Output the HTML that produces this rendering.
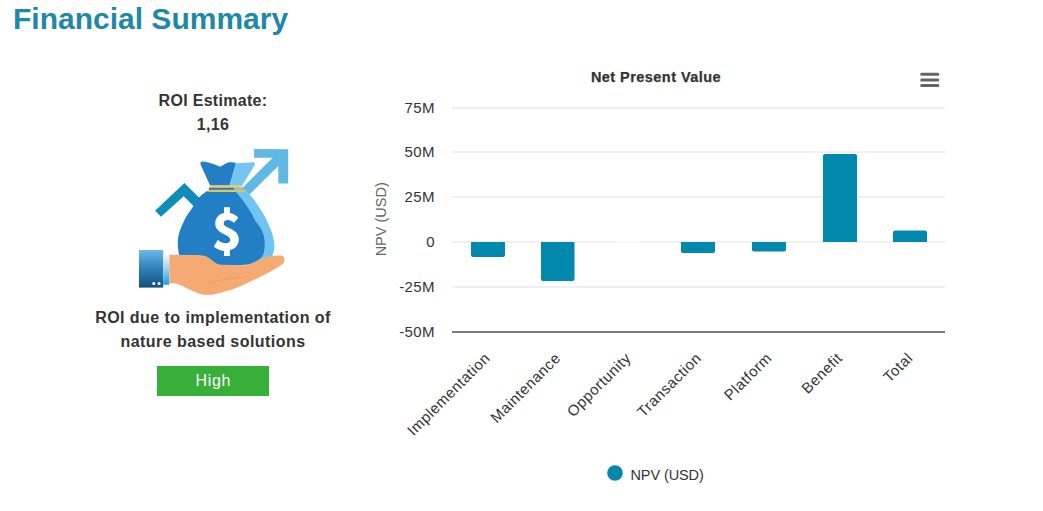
<!DOCTYPE html>
<html>
<head>
<meta charset="utf-8">
<title>Financial Summary</title>
<style>
html,body{margin:0;padding:0;background:#fff;}
body{width:1043px;height:511px;position:relative;overflow:hidden;font-family:"Liberation Sans",Arial,sans-serif;}
h1{position:absolute;left:13px;top:2px;margin:0;font-size:30px;font-weight:bold;color:#1e88a6;line-height:normal;white-space:nowrap;}
.roi{position:absolute;left:113px;width:200px;text-align:center;color:#333;font-weight:bold;font-size:16px;letter-spacing:0.3px;line-height:23px;}
#roi1{top:89px;}
#roi2{top:113px;}
#illus{position:absolute;left:130px;top:140px;width:170px;height:165px;}
#desc{top:306px;left:83px;width:260px;letter-spacing:0.45px;line-height:24px;}
#high{position:absolute;left:157px;top:366px;width:112px;height:30px;background:#37b039;color:#fff;font-size:16px;line-height:30px;text-align:center;letter-spacing:0.7px;text-indent:0.7px;}
#chart{position:absolute;left:0;top:0;}
#chart text{font-family:"Liberation Sans",Arial,sans-serif;}
</style>
</head>
<body>
<h1>Financial Summary</h1>
<div class="roi" id="roi1">ROI Estimate:</div>
<div class="roi" id="roi2">1,16</div>

<svg id="illus" viewBox="130 140 170 165" width="170" height="165">
  <defs>
    <linearGradient id="cuff" x1="0" y1="0" x2="0" y2="1">
      <stop offset="0" stop-color="#6ab8e6"/>
      <stop offset="0.5" stop-color="#2f7fb8"/>
      <stop offset="1" stop-color="#15507e"/>
    </linearGradient>
    <linearGradient id="shirt" x1="0" y1="0" x2="0" y2="1">
      <stop offset="0" stop-color="#f4fbff"/>
      <stop offset="0.45" stop-color="#9fd6f2"/>
      <stop offset="1" stop-color="#1aa0dc"/>
    </linearGradient>
  </defs>
  <!-- teal zigzag -->
  <polygon fill="#118bba" points="155.1,210.7 184.4,182.9 212,210.5 205,217.5 183.7,196.2 161,216.8"/>
  <!-- light blue arrow shaft + head -->
  <polygon fill="#5fb9e4" points="254.1,149.1 288.2,149.3 288.2,183.6 278.3,183.6 278.3,166 244,200 237,193.3 272.6,157.7 254.1,157.7"/>
  <!-- light rim (right side of bag) -->
  <path fill="#70c4ee" d="M234,186 L246,189.7 L248.1,192.8 C254,199.5 262,210 267.2,221.2 C271.5,230.5 274.4,238 274.4,246 C274.4,250 273.5,253 272.1,256.5 L255,266 L234,200 Z"/>
  <!-- bag body dark -->
  <path fill="#227fc6" d="M207.2,191.1 C200,195.5 196.5,200 193.9,205.5 C190,211.5 186,216 183.7,221.7 C180.5,228 178,234 177.8,241 C177.6,246 178.2,250.5 179,255 L181,262 L215,266.5 L249.4,264.5 C255,262.5 260.5,259 262.7,255.5 C264.8,252 264.8,245 264.6,241 C264.3,233 260.5,227 255.4,221 C253,216.5 251.5,213 249.6,210.4 C247.5,207 245.5,203.8 243,200.7 C240.5,197.5 238,194.5 236,192 Z"/>
  <!-- bag top: dark + light -->
  <path fill="#227fc6" d="M210.1,185.4 L201,165.5 C199.6,162.6 200.8,161.2 203,161.5 C209,162.3 214.5,164.5 220.3,166.7 C223.5,165.2 226.5,162.6 229.6,162.3 C232,162.1 234.5,162.6 236,163.2 L229.6,185.4 Z"/>
  <path fill="#74c5ef" d="M236,163.2 L253,162.3 C255,162.3 255.5,164 254.5,165.5 L242.2,185.4 L229.6,185.4 Z"/>
  <!-- strip between bands -->
  <rect x="209" y="187.4" width="25" height="2.6" fill="#2478bd"/>
  <rect x="234" y="187.4" width="10" height="2.6" fill="#70c4ee"/>
  <!-- gold bands -->
  <rect x="210.1" y="185.3" width="32.1" height="2.3" fill="#e9c860"/>
  <rect x="207.7" y="189.7" width="38.4" height="2.3" fill="#e6c15a"/>
  <!-- dollar -->
  <text x="226.9" y="250.2" font-family="Noto Sans CJK JP, sans-serif" font-weight="900" font-size="50" fill="#fff" text-anchor="middle">$</text>
  <!-- cuff -->
  <rect x="139" y="250" width="24.2" height="37.6" fill="url(#cuff)"/>
  <circle cx="153.8" cy="283.6" r="1.5" fill="#fff"/>
  <circle cx="159.1" cy="283.6" r="1.5" fill="#fff"/>
  <rect x="163.2" y="254" width="6.2" height="30.7" fill="url(#shirt)"/>
  <!-- hand -->
  <path fill="#f5aa74" d="M169.4,254.8 L195,254.9 C199,255 203,255.3 206.2,256.2 C208.5,257.2 210.5,259 212.3,260.5 C215,262.6 217.5,264.6 220.9,264.8 L246.8,265.3 C249.8,264 252.5,262.7 255.4,261.4 C258.5,260 261,258.8 264,257.9 C267,257 270,256.2 272.7,255.8 L281.3,255.4 C283.5,255.6 284.6,257.5 284.4,260 C284.2,262.3 283.4,263.5 281.5,264.7 C279,266.5 276.8,268 274.3,269.2 C269,272.5 263,275.5 257,278.4 C251,281.2 245.5,284 239.8,286.5 C234,289 228,290.8 222.5,292.2 C218.5,293.3 214.5,294.5 211,294.8 L203,294.8 C197.5,293.2 192.5,291 188,288.8 C184,286.8 179.5,284.5 175.4,283.2 L169.4,283 Z"/>
  <path fill="none" stroke="#e79a62" stroke-width="0.8" stroke-linecap="round" d="M207.6,283 C220,279.5 233,278 246,277"/>
</svg>

<div class="roi" id="desc">ROI due to implementation of<br>nature based solutions</div>
<div id="high">High</div>

<svg id="chart" width="1043" height="511" viewBox="0 0 1043 511">
  <text x="656" y="82" text-anchor="middle" font-size="14.5" font-weight="bold" fill="#333" stroke="#333" stroke-width="0.25" letter-spacing="0.45">Net Present Value</text>
  <!-- menu -->
  <g stroke="#666" stroke-width="3" stroke-linecap="round">
    <line x1="921.7" y1="74.3" x2="937.8" y2="74.3"/>
    <line x1="921.7" y1="80" x2="937.8" y2="80"/>
    <line x1="921.7" y1="85.5" x2="937.8" y2="85.5"/>
  </g>
  <!-- grid -->
  <g fill="#f0f0f0">
    <rect x="452" y="107" width="493" height="2"/>
    <rect x="452" y="151" width="493" height="2"/>
    <rect x="452" y="196" width="493" height="2"/>
    <rect x="452" y="241" width="493" height="2"/>
    <rect x="452" y="286" width="493" height="2"/>
  </g>
  <rect x="452" y="331" width="493" height="2" fill="#7b7b7b"/>
  <!-- y labels -->
  <g font-size="15" fill="#333" text-anchor="end" letter-spacing="0.4">
    <text x="435" y="112.6">75M</text>
    <text x="435" y="157.4">50M</text>
    <text x="435" y="202.2">25M</text>
    <text x="435" y="247">0</text>
    <text x="435" y="291.8">-25M</text>
    <text x="435" y="336.6">-50M</text>
  </g>
  <text transform="translate(386.2,219.3) rotate(-90)" text-anchor="middle" font-size="14.5" fill="#666">NPV (USD)</text>
  <!-- bars -->
  <g fill="#0288ac">
    <path d="M471,242 H505 V255 Q505,257 503,257 H473 Q471,257 471,255 Z"/>
    <path d="M541,242 H574.5 V279 Q574.5,281 572.5,281 H543 Q541,281 541,279 Z"/>
    <path d="M681,242 H715 V251 Q715,253 713,253 H683 Q681,253 681,251 Z"/>
    <path d="M752,242 H786 V249.5 Q786,251.5 784,251.5 H754 Q752,251.5 752,249.5 Z"/>
    <path d="M823,156 Q823,154 825,154 H855 Q857,154 857,156 V242 H823 Z"/>
    <path d="M893,232.5 Q893,230.5 895,230.5 H925 Q927,230.5 927,232.5 V242 H893 Z"/>
  </g>
  <!-- x labels -->
  <g font-size="15" fill="#333" text-anchor="end" letter-spacing="0.5">
    <text transform="translate(491.0,359) rotate(-45)">Implementation</text>
    <text transform="translate(561.4,359) rotate(-45)">Maintenance</text>
    <text transform="translate(631.9,359) rotate(-45)">Opportunity</text>
    <text transform="translate(702.3,359) rotate(-45)">Transaction</text>
    <text transform="translate(772.7,359) rotate(-45)">Platform</text>
    <text transform="translate(843.2,359) rotate(-45)">Benefit</text>
    <text transform="translate(913.6,359) rotate(-45)">Total</text>
  </g>
  <!-- zero-value bar border -->
  <rect x="615" y="241" width="26" height="2" fill="#f9f9f9"/>
  <!-- legend -->
  <circle cx="615" cy="473" r="7.8" fill="#0288ac"/>
  <text x="630.5" y="480" font-size="14.5" fill="#333" letter-spacing="-0.1">NPV (USD)</text>
</svg>
</body>
</html>
